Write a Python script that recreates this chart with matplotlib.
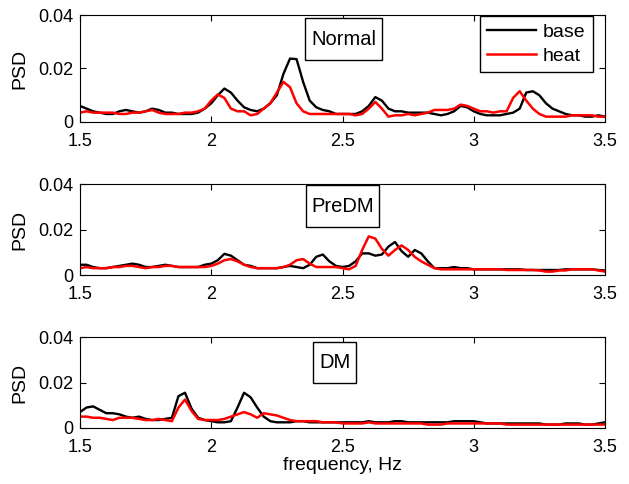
import numpy as np
import matplotlib
matplotlib.use("Agg")
import matplotlib.pyplot as plt
from matplotlib.path import Path

plt.rcParams['font.family'] = ['Liberation Sans', 'DejaVu Sans']
plt.rcParams['font.size'] = 13

freq = np.arange(1.5, 3.5001, 0.025)  # Hz

# PSD values, in units of 1e-3
normal_base = [6, 5, 4, 3.5, 3, 3, 4, 4.5, 4, 3.5,
               4, 5, 4.5, 3.5, 3.5, 3, 3, 3, 3.5, 5,
               7, 10, 12.5, 11, 8, 5.5, 4.5, 4, 5, 7,
               10, 18, 23.7, 23.5, 15, 8, 5.5, 4.5, 4, 3,
               3, 3, 3, 4, 6, 9.3, 8, 5, 4, 4,
               3.5, 3.5, 3.5, 3.5, 3, 2.5, 3, 4, 6, 5.5,
               4, 3, 2.5, 2.5, 2.5, 3, 3.5, 5, 11, 11.5,
               10, 7, 5, 4, 3, 2.5, 2.5, 2, 2, 2.5,
               2]
normal_heat = [3.5, 4, 3.5, 3.5, 3.5, 3.5, 3, 3, 3.5, 3.5,
               4, 4.5, 3.5, 3, 3, 3, 3.5, 3.5, 4, 5,
               8, 10.3, 9, 5, 4, 4, 2.5, 3, 5, 7,
               11, 15, 13, 7, 4, 3, 3, 3, 3, 3,
               3, 3, 2.5, 3, 5, 7.5, 5, 2, 2.5, 2.5,
               3, 2.5, 3, 3.5, 4.5, 4.5, 4.5, 5, 6.5, 6,
               5, 4, 4, 3.5, 4, 4, 9, 11.5, 8, 5,
               3, 2, 2, 2, 2, 2.5, 2.5, 2.5, 2.5, 2,
               2]
predm_base = [4.5, 4.5, 3.5, 3, 3, 3.5, 4, 4.5, 5, 4.5,
              3.5, 3.5, 4, 4.5, 4, 3.5, 3.5, 3.5, 3.5, 4.5,
              5, 6.5, 9.3, 8.5, 6.5, 4.5, 4, 3, 3, 3,
              3, 3.5, 4, 3.5, 3, 4.5, 8, 9, 6, 4,
              3.5, 4, 6, 9.5, 9.5, 8.5, 9, 12.5, 14.5, 10.5,
              8, 11, 9.5, 6, 3, 3, 3, 3.5, 3, 3,
              2.5, 2.5, 2.5, 2.5, 2.5, 2.5, 2.5, 2.5, 2.2, 2.2,
              2.2, 2.2, 2.2, 2.2, 2.5, 2.5, 2.5, 2.5, 2.5, 2.2,
              2]
predm_heat = [3, 3.5, 3, 3, 3, 3.5, 3.5, 4, 4, 3.5,
              3, 3.5, 3.5, 4, 4, 3.5, 3.5, 3.5, 3.5, 3.5,
              4, 5, 6.5, 7, 6, 4.5, 3.5, 3, 3, 3,
              3, 3.5, 4.5, 6.5, 7, 5, 3.5, 3.5, 3.5, 3.5,
              3, 2.5, 4, 11, 17, 16, 11.5, 8.5, 11, 13,
              11, 8, 6, 4.5, 3, 2.5, 2.5, 2.5, 2.5, 2.5,
              2.5, 2.5, 2.5, 2.5, 2.5, 2.2, 2.2, 2.2, 2.2, 2.2,
              2, 1.5, 1.5, 2, 2, 2.5, 2.5, 2.5, 2.5, 2,
              1.5]
dm_base = [7, 9, 9.5, 8, 6.5, 6.5, 6, 5, 4.5, 5,
           4, 3.5, 3.5, 4, 4.5, 14, 15.5, 8.5, 4.5, 3.5,
           3, 2.5, 2.5, 3, 9, 15.5, 13.5, 9, 5, 3,
           2.5, 2.5, 2.5, 3, 3, 2.5, 2.5, 2.5, 2.5, 2.5,
           2.5, 2.5, 2.5, 2.5, 3, 2.5, 2.5, 2.5, 3, 3,
           2.5, 2.5, 2.5, 2.5, 2.5, 2.5, 2.5, 3, 3, 3,
           3, 2.5, 2, 2, 2, 2, 2, 2, 2, 2,
           2, 1.5, 1.5, 1.5, 2, 2, 2, 1.5, 1.5, 2,
           2.5]
dm_heat = [5, 5, 4.5, 4.5, 4, 3.5, 4.5, 4.5, 4.5, 4,
           3.5, 3.5, 4, 3.5, 3, 9, 12.5, 7.5, 4, 3.5,
           3.5, 3.5, 4, 5, 6, 7, 6, 4.5, 6.5, 6,
           5.5, 4.5, 3.5, 3, 3, 3, 3, 2.5, 2.5, 2.5,
           2, 2, 2, 2, 2.5, 2, 2, 2, 2, 2,
           2, 2, 2, 1.5, 1.5, 1.5, 2, 2, 2, 2,
           2, 2, 2, 2, 2, 1.5, 1.5, 1.5, 1.5, 1.5,
           1.5, 1.5, 1.5, 1.5, 1.5, 1.5, 1.5, 1.5, 1.5, 1.5,
           1.5]

panels = [("Normal", normal_base, normal_heat, 2.504, 0.031),
          ("PreDM", predm_base, predm_heat, 2.50, 0.0303),
          ("DM", dm_base, dm_heat, 2.47, 0.0288)]


def tall_box(x0, y0, width, height, mutation_size):
    # matlab-style label box: little side padding, more above/below
    px, py = 0.28 * mutation_size, 0.55 * mutation_size
    x0, y0 = x0 - px, y0 - py
    x1, y1 = x0 + width + 2 * px, y0 + height + 2 * py
    return Path([(x0, y0), (x1, y0), (x1, y1), (x0, y1), (x0, y0)], closed=True)


fig = plt.figure(figsize=(6.29, 4.84), dpi=100)
W, H = 629, 484
rows = [(15, 122), (184, 275), (337, 428)]  # top/bottom pixel rows
axes = []
for (top, bot) in rows:
    axes.append(fig.add_axes([80 / W, 1 - bot / H, 525 / W, (bot - top) / H]))

for ax, (name, base, heat, tx, ty) in zip(axes, panels):
    ax.plot(freq, np.array(base) * 1e-3, color='black', lw=1.7, label='base')
    ax.plot(freq, np.array(heat) * 1e-3, color='red', lw=1.8, label='heat')
    ax.set_xlim(1.5, 3.5)
    ax.set_ylim(0, 0.04)
    ax.set_xticks([1.5, 2, 2.5, 3, 3.5])
    ax.set_xticklabels(['1.5', '2', '2.5', '3', '3.5'])
    ax.set_yticks([0, 0.02, 0.04])
    ax.set_yticklabels(['0', '0.02', '0.04'])
    ax.tick_params(direction='in', top=True, right=True, length=4, pad=5)
    ax.tick_params(axis='x', pad=7.6)
    ax.set_ylabel('PSD', fontsize=14, labelpad=7)
    ax.text(tx, ty, name, ha='center', va='center', fontsize=14.5,
            bbox=dict(boxstyle=tall_box, fc='white', ec='black', lw=1))

leg = axes[0].legend(loc='upper right', bbox_to_anchor=(0.977, 0.99),
                     borderaxespad=0, fontsize=14,
                     fancybox=False, edgecolor='black', framealpha=1,
                     handlelength=2.5, borderpad=0.38, labelspacing=0.3,
                     handletextpad=0.35)
leg.get_frame().set_linewidth(1)

axes[2].set_xlabel('frequency, Hz', fontsize=14, labelpad=1)

fig.savefig('out.png', dpi=100)
